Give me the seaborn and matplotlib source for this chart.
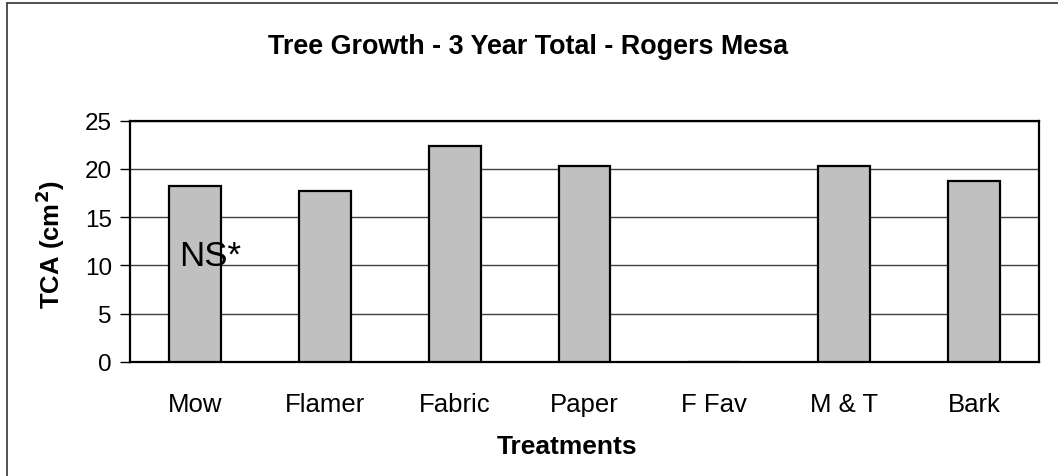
import numpy as np
import pandas as pd
import seaborn as sns
import matplotlib.pyplot as plt
from matplotlib.lines import Line2D

treatments = ['Mow', 'Flamer', 'Fabric', 'Paper', 'F Fav', 'M & T', 'Bark']
tca_values = [18.2, 17.7, 22.4, 20.3, 0.0, 20.3, 18.7]
y_ticks = [0, 5, 10, 15, 20, 25]

df = pd.DataFrame({'Treatment': treatments, 'TCA': tca_values})

sns.set_style('white')
plt.rcParams['font.family'] = ['Liberation Sans', 'DejaVu Sans']
plt.rcParams['text.color'] = 'black'
plt.rcParams['xtick.color'] = 'black'
plt.rcParams['ytick.color'] = 'black'
plt.rcParams['axes.labelcolor'] = 'black'

fig = plt.figure(figsize=(10.58, 4.77), dpi=100)
ax = fig.add_axes([130 / 1058, 1 - 362.7 / 477, (1039 - 130) / 1058, (362.7 - 121.7) / 477])

sns.barplot(x='Treatment', y='TCA', data=df, order=treatments, color='#C0C0C0',
            edgecolor='black', linewidth=1.6, width=0.4, saturation=1, ax=ax, zorder=3)

ax.set_ylim(0, 25)
ax.set_xlim(-0.5, len(treatments) - 0.5)
ax.set_yticks(y_ticks)
ax.set_yticklabels([str(t) for t in y_ticks], fontsize=17.5)
ax.yaxis.grid(True, color='#404040', linewidth=1.0, zorder=0)
ax.set_axisbelow(True)

# category ticks sit between bars, labels at the bar centres
ax.set_xticks(np.arange(len(treatments)))
ax.set_xticklabels(treatments, fontsize=18.5)
ax.set_xticks(np.arange(len(treatments) + 1) - 0.5, minor=True)
ax.tick_params(axis='x', which='major', length=0, pad=22)
ax.tick_params(axis='x', which='minor', length=7, width=1, color='black', direction='out')
ax.tick_params(axis='y', length=7, width=1, color='black', direction='out', pad=6, left=True)

for s in ax.spines.values():
    s.set_color('black')
    s.set_linewidth(1.6)

ax.set_xlabel('')
ax.set_ylabel('')
fig.text(567 / 1058, 1 - 447 / 477, 'Treatments', fontsize=19, fontweight='bold',
         ha='center', va='center')
fig.text(50 / 1058, 1 - 245 / 477, 'TCA (cm$^\\mathbf{2}$)', fontsize=18.5, fontweight='bold',
         rotation=90, ha='center', va='center')
fig.text(528 / 1058, 1 - 47 / 477, 'Tree Growth - 3 Year Total - Rogers Mesa', fontsize=19.4,
         fontweight='bold', ha='center', va='center')

ax.text(-0.12, 10.0, 'NS*', fontsize=25, ha='left', va='baseline', zorder=5)

# chart area border (left and top edges visible)
fig.add_artist(Line2D([7 / 1058, 7 / 1058], [0, 1 - 4 / 477], color='#333333', linewidth=1.2))
fig.add_artist(Line2D([7 / 1058, 1], [1 - 4 / 477, 1 - 4 / 477], color='#333333', linewidth=1.2))

fig.savefig('out.png', dpi=100)
